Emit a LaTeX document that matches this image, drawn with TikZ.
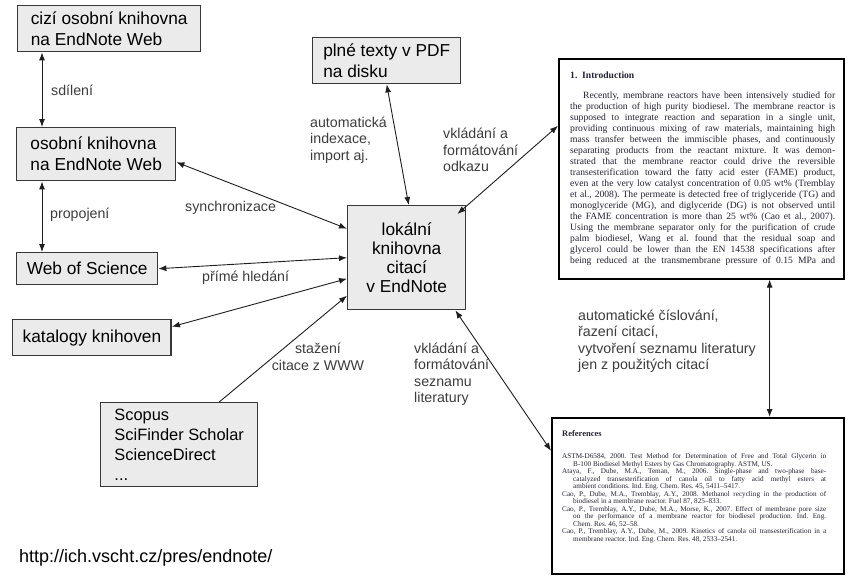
\documentclass[tikz,border=0pt]{standalone}
\usepackage{fontspec}
\setmainfont{Liberation Sans}
\newfontfamily\docfont{Liberation Serif}
\usepackage{xcolor}
\usetikzlibrary{arrows.meta}

\definecolor{boxfill}{RGB}{235,235,235}
\definecolor{boxline}{RGB}{55,55,55}
\definecolor{arrowline}{RGB}{30,30,30}
\definecolor{labeltext}{RGB}{60,60,60}
\definecolor{doctext}{RGB}{35,35,50}

\begin{document}
\begin{tikzpicture}[x=1pt,y=-1pt,>={Latex[length=8pt,width=6pt]}]
\tikzset{zdroj/.style={draw=boxline,line width=1.4pt,fill=boxfill,anchor=north west,align=left,inner xsep=10pt,inner ysep=0pt,font=\fontsize{17.3}{21}\selectfont}}
\tikzset{popis/.style={anchor=west,align=left,inner sep=0pt,text=labeltext,font=\fontsize{14.2}{16.5}\selectfont}}
\tikzset{vazba/.style={<->,draw=arrowline,line width=0.9pt}}
\tikzset{jednosmer/.style={->,draw=arrowline,line width=0.9pt}}
\tikzset{dokument/.style={draw=black,line width=1.6pt,fill=white,anchor=north west}}

\useasboundingbox (0,0) rectangle (858,583);

\node[zdroj,minimum width=183pt,minimum height=46pt] (cizi) at (17,5) {cizí osobní knihovna\\na EndNote Web};
\node[zdroj,minimum width=159pt,minimum height=53pt] (osobni) at (16,127) {osobní knihovna\\na EndNote Web};
\node[zdroj,minimum width=141pt,minimum height=32pt] (wos) at (16,252) {Web of Science};
\node[zdroj,minimum width=158pt,minimum height=36pt] (katalogy) at (12,319) {katalogy knihoven};
\node[zdroj,minimum width=157pt,minimum height=84pt,font=\fontsize{16.4}{20}\selectfont] (scopus) at (100,402) {Scopus\\SciFinder Scholar\\ScienceDirect\\...};
\node[zdroj,minimum width=148pt,minimum height=46pt] (pdf) at (312,37) {plné texty v PDF\\na disku};
\node[zdroj,minimum width=118pt,minimum height=104pt,align=center,inner xsep=0pt,font=\fontsize{17.3}{19}\selectfont] (lokalni) at (347,205) {lokální\\knihovna\\citací\\v EndNote};

\node[dokument,minimum width=285pt,minimum height=220pt] (clanek) at (558,58) {};
\node[anchor=north west,inner sep=0pt,text=doctext] (clanektext) at (570,72) {\parbox[t]{265pt}{\docfont\fontsize{9.6}{11}\selectfont
\frenchspacing\tolerance=10000\hbadness=10000
{\bfseries 1.\enspace Introduction}\par
\vspace{9pt}
\parfillskip=0pt
\hspace*{13pt}Recently, membrane reactors have been intensively studied for\linebreak
the production of high purity biodiesel. The membrane reactor is\linebreak
supposed to integrate reaction and separation in a single unit,\linebreak
providing continuous mixing of raw materials, maintaining high\linebreak
mass transfer between the immiscible phases, and continuously\linebreak
separating products from the reactant mixture. It was demon-\linebreak
strated that the membrane reactor could drive the reversible\linebreak
transesterification toward the fatty acid ester (FAME) product,\linebreak
even at the very low catalyst concentration of 0.05 wt\% (Tremblay\linebreak
et al., 2008). The permeate is detected free of triglyceride (TG) and\linebreak
monoglyceride (MG), and diglyceride (DG) is not observed until\linebreak
the FAME concentration is more than 25 wt\% (Cao et al., 2007).\linebreak
Using the membrane separator only for the purification of crude\linebreak
palm biodiesel, Wang et al. found that the residual soap and\linebreak
glycerol could be lower than the EN 14538 specifications after\linebreak
being reduced at the transmembrane pressure of 0.15 MPa and\par}};

\node[dokument,minimum width=292pt,minimum height=156pt] (literatura) at (551,417) {};
\node[anchor=north west,inner sep=0pt,text=doctext] (literaturatext) at (562,430) {\parbox[t]{264pt}{\docfont\fontsize{7.2}{7.5}\selectfont
\frenchspacing\tolerance=10000\hbadness=10000
{\fontsize{8.5}{9}\selectfont\bfseries References}\par
\vspace{15pt}
\leftskip=11pt\parindent=-11pt
ASTM-D6584, 2000. Test Method for Determination of Free and Total Glycerin in\linebreak
B-100 Biodiesel Methyl Esters by Gas Chromatography. ASTM, US.\par
Ataya, F., Dube, M.A., Teman, M., 2006. Single-phase and two-phase base-\linebreak
catalyzed transesterification of canola oil to fatty acid methyl esters at\linebreak
ambient conditions. Ind. Eng. Chem. Res. 45, 5411–5417.\par
Cao, P., Dube, M.A., Tremblay, A.Y., 2008. Methanol recycling in the production of\linebreak
biodiesel in a membrane reactor. Fuel 87, 825–833.\par
Cao, P., Tremblay, A.Y., Dube, M.A., Morse, K., 2007. Effect of membrane pore size\linebreak
on the performance of a membrane reactor for biodiesel production. Ind. Eng.\linebreak
Chem. Res. 46, 52–58.\par
Cao, P., Tremblay, A.Y., Dube, M., 2009. Kinetics of canola oil transesterification in a\linebreak
membrane reactor. Ind. Eng. Chem. Res. 48, 2533–2541.\par}};

\draw[vazba] ([xshift=25pt]cizi.south west) -- ([xshift=26pt]osobni.north west);
\draw[vazba] ([xshift=26pt]osobni.south west) -- ([xshift=26pt]wos.north west);
\draw[vazba] ([yshift=-8pt]osobni.east) -- ([yshift=29pt]lokalni.west);
\draw[vazba] (wos.east) -- (lokalni.west);
\draw[vazba] ([yshift=11pt]katalogy.east) -- ([yshift=-21pt]lokalni.west);
\draw[jednosmer] ([xshift=40pt]scopus.north) -- ([yshift=-38pt]lokalni.west);
\draw[vazba] (pdf.south) -- ([xshift=2pt]lokalni.north);
\draw[vazba] ([xshift=-9pt,yshift=-9pt]lokalni.north east) -- ([yshift=43pt]clanek.west);
\draw[vazba] ([xshift=-11pt]lokalni.south east) -- ([yshift=45pt]literatura.west);
\draw[vazba] ([xshift=-75pt]clanek.south east) -- ([xshift=-75pt]literatura.north east);

\node[popis] (sdileni) at (51,90) {sdílení};
\node[popis] (propojeni) at (50,215) {propojení};
\node[popis] (synchronizace) at (185,208) {synchronizace};
\node[popis] (hledani) at (202,278) {přímé hledání};
\node[popis,anchor=center,align=center] (stazeni) at (318,357) {stažení\\citace z WWW};
\node[popis] (indexace) at (310,140) {automatická\\indexace,\\import aj.};
\node[popis] (odkaz) at (443,150) {vkládání a\\formátování\\odkazu};
\node[popis] (seznam) at (414,374) {vkládání a\\formátování\\seznamu\\literatury};
\node[popis] (cislovani) at (578,341) {automatické číslování,\\řazení citací,\\vytvoření seznamu literatury\\jen z použitých citací};

\node[popis,text=black,font=\fontsize{18}{20}\selectfont] (adresa) at (19,558) {http://ich.vscht.cz/pres/endnote/};
\end{tikzpicture}
\end{document}
